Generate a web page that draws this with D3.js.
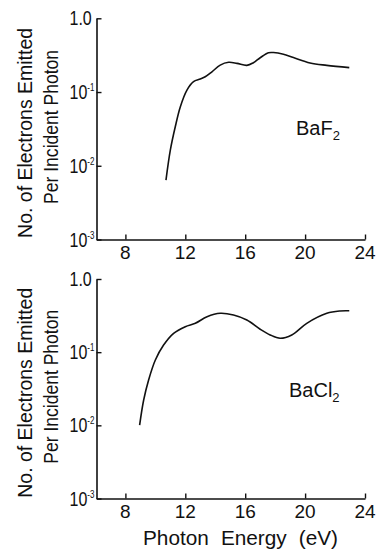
<!DOCTYPE html>
<html>
<head>
<meta charset="utf-8">
<script src="https://cdn.jsdelivr.net/npm/d3@7"></script>
<style>
  html, body { margin: 0; padding: 0; background: #fff; }
  svg { display: block; }
  text { font-family: "Liberation Sans", "DejaVu Sans", sans-serif; fill: #111; }
</style>
</head>
<body>
<svg id="chart" width="378" height="550"></svg>
<script>
// ---- data ----
const energyBaF2 = [10.71, 11.0, 11.33, 11.67, 12.11, 12.55, 13.0, 13.33, 13.78, 14.33, 14.89, 15.45, 16.11, 16.55, 17.0, 17.55, 17.89, 18.55, 19.22, 20.33, 21.45, 22.95];
const yieldBaF2  = [0.0064, 0.0163, 0.0338, 0.0632, 0.106, 0.138, 0.150, 0.161, 0.188, 0.232, 0.253, 0.245, 0.230, 0.250, 0.292, 0.341, 0.343, 0.325, 0.293, 0.248, 0.230, 0.214];

const energyBaCl2 = [8.95, 9.22, 9.55, 10.0, 10.55, 11.22, 12.0, 12.67, 13.45, 14.33, 15.22, 16.11, 17.0, 17.67, 18.33, 19.11, 20.11, 21.45, 22.33, 22.95];
const yieldBaCl2  = [0.0101, 0.0222, 0.0417, 0.0782, 0.125, 0.181, 0.223, 0.248, 0.305, 0.340, 0.322, 0.275, 0.206, 0.172, 0.155, 0.172, 0.248, 0.340, 0.366, 0.368];

const xTickValues = [8, 12, 16, 20, 24];
const yTickValues = [1, 0.1, 0.01, 0.001];
const yTickBase   = ["1.0", "10", "10", "10"];
const yTickExp    = ["", "-1", "-2", "-3"];

const panelLabels = [["Ba", "F", "2"], ["Ba", "Cl", "2"]];
const yTitle1 = "No. of Electrons Emitted";
const yTitle2 = "Per Incident Photon";
const xTitle = "Photon Energy (eV)";

// ---- layout ----
const svg = d3.select("#chart");
const x = d3.scaleLinear().domain([6.07, 24]).range([96.5, 365]);

const panels = [
  { top: 18.3, bottom: 239.5, ex: energyBaF2, ey: yieldBaF2, label: panelLabels[0], lx: 296, ly: 135 },
  { top: 279,  bottom: 498.5, ex: energyBaCl2, ey: yieldBaCl2, label: panelLabels[1], lx: 289, ly: 397 }
];

panels.forEach((p, pi) => {
  const y = d3.scaleLog().domain([0.001, 1]).range([p.bottom, p.top]);
  const g = svg.append("g");

  // x axis (ticks pointing up)
  const xa = g.append("g")
    .attr("transform", `translate(0,${p.bottom})`)
    .call(d3.axisBottom(x).tickValues(xTickValues).tickSize(-5).tickSizeOuter(0).tickFormat(""));
  xa.select(".domain").attr("stroke", "#111").attr("stroke-width", 1.6);
  xa.selectAll(".tick line").attr("stroke", "#111").attr("stroke-width", 1.4);

  g.selectAll(".xlab").data(xTickValues).enter().append("text")
    .attr("x", d => x(d)).attr("y", p.bottom + 19)
    .attr("text-anchor", "middle").attr("font-size", 19)
    .text(d => d);

  // y axis (ticks pointing right)
  const ya = g.append("g")
    .attr("transform", `translate(${x.range()[0]},0)`)
    .call(d3.axisLeft(y).tickValues(yTickValues).tickSize(-5).tickSizeOuter(0).tickFormat(""));
  ya.select(".domain").attr("stroke", "#111").attr("stroke-width", 1.6);
  ya.selectAll(".tick line").attr("stroke", "#111").attr("stroke-width", 1.4);

  yTickValues.forEach((v, i) => {
    const t = g.append("text")
      .attr("transform", `translate(69.5,${y(v) + 7}) scale(0.8,1)`)
      .attr("font-size", 20);
    t.append("tspan").text(yTickBase[i]);
    if (yTickExp[i] !== "") {
      t.append("tspan").attr("dy", -8).attr("font-size", 10).text(yTickExp[i]);
    }
  });

  // curve
  const line = d3.line()
    .x(i => x(p.ex[i]))
    .y(i => y(p.ey[i]))
    .curve(d3.curveCatmullRom.alpha(0.5));
  g.append("path")
    .attr("d", line(d3.range(p.ex.length)))
    .attr("fill", "none").attr("stroke", "#111").attr("stroke-width", 1.6);

  // compound label
  const lab = g.append("text").attr("x", p.lx).attr("y", p.ly).attr("font-size", 20);
  lab.append("tspan").text(p.label[0] + p.label[1]);
  lab.append("tspan").attr("font-size", 13).attr("dy", 5).text(p.label[2]);

  // y titles
  const cy1 = (p.top + p.bottom) / 2 + 4;
  g.append("text")
    .attr("transform", `translate(32,${cy1}) rotate(-90)`)
    .attr("text-anchor", "middle").attr("font-size", 21)
    .attr("textLength", 210).attr("lengthAdjust", "spacingAndGlyphs")
    .text(yTitle1);
  g.append("text")
    .attr("transform", `translate(58,${cy1 - 6}) rotate(-90)`)
    .attr("text-anchor", "middle").attr("font-size", 20)
    .attr("textLength", 154).attr("lengthAdjust", "spacingAndGlyphs")
    .text(yTitle2);
});

svg.append("text")
  .attr("x", 143).attr("y", 545).attr("font-size", 20)
  .attr("textLength", 195).attr("lengthAdjust", "spacingAndGlyphs")
  .attr("word-spacing", 6)
  .text(xTitle);
</script>
</body>
</html>
